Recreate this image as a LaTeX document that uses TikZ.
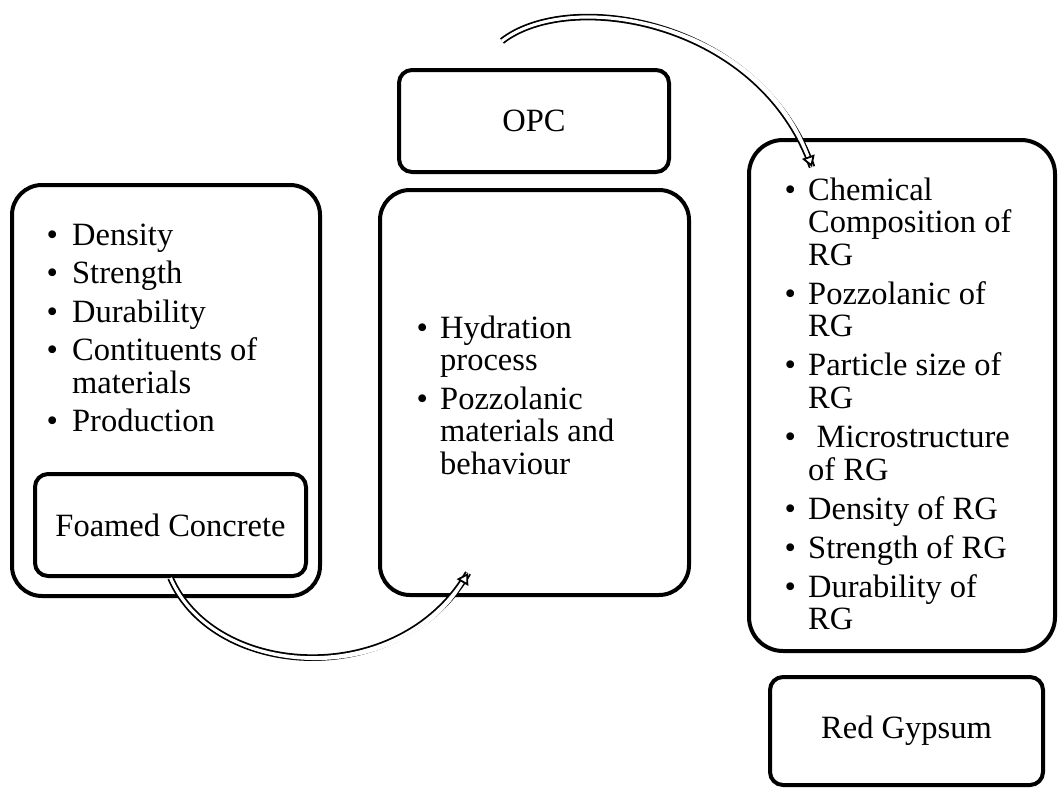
\documentclass[tikz,border=0pt]{standalone}
\usepackage{fontspec}
\setmainfont{Liberation Serif}
\usetikzlibrary{arrows.meta}
\newcommand\bul[1]{\makebox[#1][l]{\textbullet}}
\tikzset{
  bigbox/.style={draw, line width=4pt, rounded corners=30pt, fill=white, inner sep=0pt},
  smallbox/.style={draw, line width=4pt, rounded corners=13pt, fill=white, inner sep=0pt,
    font=\fontsize{32.5}{32.5}\selectfont},
  listtxt/.style={inner sep=0pt, anchor=base west, font=\fontsize{32.5}{32.5}\selectfont},
  dblarrow/.style={draw=white, line width=2.4pt,
    -{Triangle[color=black, fill=white, line width=1.8pt, length=11pt, width=13pt]},
    preaction={draw=black, -, double=white, line width=1.8pt, double distance=3pt}},
}
\begin{document}
\begin{tikzpicture}[x=1pt,y=-1pt]
\useasboundingbox (0,0) rectangle (1062,795);
% boxes
\node[bigbox, minimum width=308pt, minimum height=411pt] (fcbig) at (166,390.5) {};
\node[smallbox, minimum width=271pt, minimum height=102pt] (fc) at (170.5,525) {Foamed Concrete};
\node[smallbox, minimum width=270pt, minimum height=102pt] (opc) at (534,121) {OPC};
\node[bigbox, minimum width=309pt, minimum height=405pt] (mid) at (534.5,392.5) {};
\node[bigbox, rounded corners=34pt, minimum width=306pt, minimum height=511pt] (rg) at (902,395.5) {};
\node[smallbox, minimum width=273pt, minimum height=108pt] (rgname) at (906.5,731) {Red Gypsum};
% lists
\node[listtxt] (fclist) at (46.3,245) {\begin{tabular}[t]{@{}l@{}l@{}}
\bul{25.7pt} & Density\\[6pt]
\bul{25.7pt} & Strength\\[6pt]
\bul{25.7pt} & Durability\\[6pt]
\bul{25.7pt} & Contituents of\\
 & materials\\[6pt]
\bul{25.7pt} & Production
\end{tabular}};
\node[listtxt] (midlist) at (416.3,338) {\begin{tabular}[t]{@{}l@{}l@{}}
\bul{23.7pt} & Hydration\\
 & process\\[6pt]
\bul{23.7pt} & Pozzolanic\\
 & materials and\\
 & behaviour
\end{tabular}};
\node[listtxt] (rglist) at (784.3,200) {\begin{tabular}[t]{@{}l@{}l@{}}
\bul{23.7pt} & Chemical\\
 & Composition of\\
 & RG\\[6.5pt]
\bul{23.7pt} & Pozzolanic of\\
 & RG\\[6.5pt]
\bul{23.7pt} & Particle size of\\
 & RG\\[6.5pt]
\bul{23.7pt} & \hspace*{8.5pt}Microstructure\\
 & of RG\\[6.5pt]
\bul{23.7pt} & Density of RG\\[6.5pt]
\bul{23.7pt} & Strength of RG\\[6.5pt]
\bul{23.7pt} & Durability of\\
 & RG
\end{tabular}};
% arrows
\coordinate (a1end) at (468,573);
\coordinate (a2start) at (502,41);
\coordinate (a2end) at (812,167);
\draw[dblarrow] (fc.south) .. controls (215,680) and (400,690) .. (a1end);
\draw[dblarrow] (a2start) .. controls (570,-12) and (760,20) .. (a2end);
\end{tikzpicture}
\end{document}
